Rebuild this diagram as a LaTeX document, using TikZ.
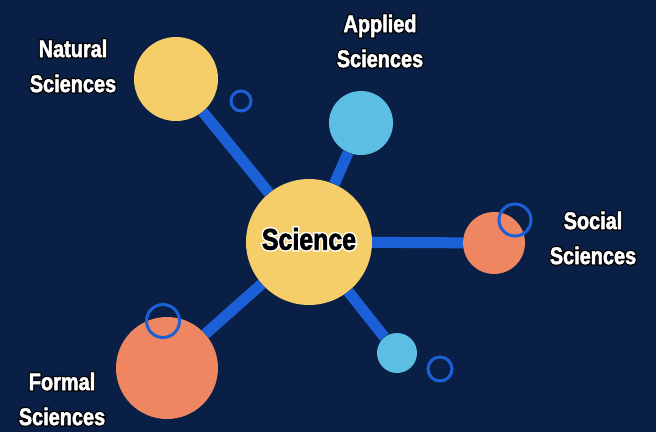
\documentclass[tikz,border=0pt]{standalone}
\usepackage{fontspec}
\setmainfont{Liberation Sans}
\newfontfamily\labelfont[FakeStretch=0.83, FakeBold=2]{Liberation Sans}
\newfontfamily\halofont[FakeStretch=0.83, FakeBold=12]{Liberation Sans}
\usepackage{xcolor}
\definecolor{scnavy}{RGB}{10,31,69}
\definecolor{scyellow}{RGB}{245,206,106}
\definecolor{scorange}{RGB}{238,134,98}
\definecolor{sclightblue}{RGB}{91,190,226}
\definecolor{scblue}{RGB}{28,96,216}
\tikzset{
  ball/.style={circle, inner sep=0pt, minimum size=#1},
  ring/.style={circle, inner sep=0pt, minimum size=#1, draw=scblue, line width=3pt},
  link/.style={line width=11pt, color=scblue},
  field/.style={text=white, align=center, font=\labelfont\bfseries\fontsize{24}{35}\selectfont},
  halo/.style={text=black, align=center, font=\halofont\bfseries\fontsize{24}{35}\selectfont}
}

\begin{document}
\begin{tikzpicture}[x=1pt, y=-1pt]
\fill[scnavy] (0,0) rectangle (656,432);
\useasboundingbox (0,0) rectangle (656,432);

% circles
\node[ball=126pt, fill=scyellow] (sci) at (309,242) {};
\node[ball=84pt, fill=scyellow] (nat) at (176,79) {};
\node[ball=64pt, fill=sclightblue] (app) at (361,123) {};
\node[ball=62pt, fill=scorange] (soc) at (494,243) {};
\node[ball=102pt, fill=scorange] (form) at (167,368) {};
\node[ball=40pt, fill=sclightblue] (dot) at (397,353) {};

% links
\draw[link] (sci) -- (nat);
\draw[link] (sci) -- (app);
\draw[link] (sci) -- (soc);
\draw[link] (sci) -- (form);
\draw[link] (sci) -- (dot);

% rings
\node[ring=20pt] (r1) at (241,101) {};
\node[ring=32pt] (r2) at (515,220) {};
\node[ring=33pt] (r3) at (163,321) {};
\node[ring=24pt] (r4) at (440,369) {};

% labels (halo first, then the text)
\node[halo, text=white, font=\halofont\bfseries\fontsize{30}{36}\selectfont] (scihalo) at (309,239) {Science};
\node[font=\labelfont\bfseries\fontsize{30}{36}\selectfont, text=black] (scilabel) at (309,239) {Science};
\node[halo] (nathalo) at (73,66) {Natural\\Sciences};
\node[field] (natlabel) at (73,66) {Natural\\Sciences};
\node[halo] (apphalo) at (380,41) {Applied\\Sciences};
\node[field] (applabel) at (380,41) {Applied\\Sciences};
\node[halo] (sochalo) at (593,238) {Social\\Sciences};
\node[field] (soclabel) at (593,238) {Social\\Sciences};
\node[halo] (formhalo) at (62,399) {Formal\\Sciences};
\node[field] (formlabel) at (62,399) {Formal\\Sciences};
\end{tikzpicture}
\end{document}
